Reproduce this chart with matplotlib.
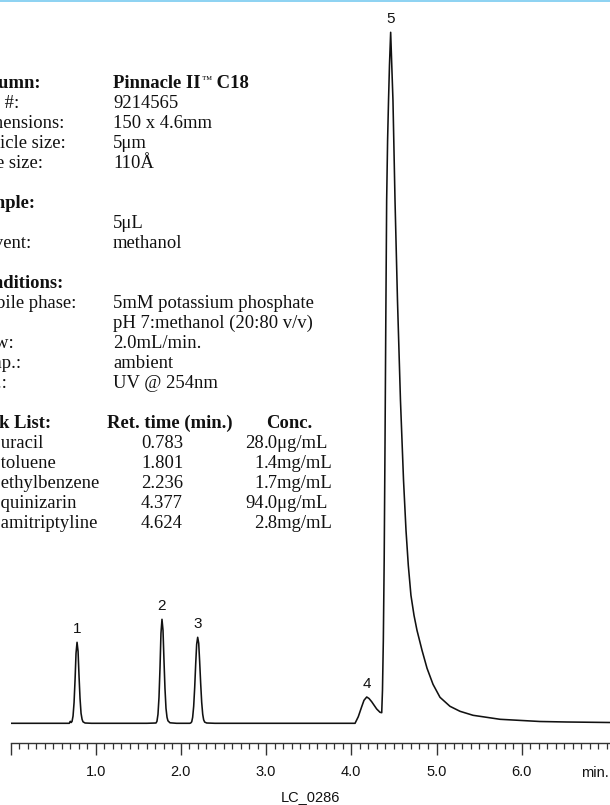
import numpy as np
import matplotlib
matplotlib.use("Agg")
import matplotlib.pyplot as plt
from matplotlib.ticker import MultipleLocator
from matplotlib.patches import Rectangle

# ---------------- data ----------------
time_min = [0.000, 0.600, 0.690, 0.702, 0.712,
            0.722, 0.734, 0.746, 0.758, 0.769, 0.781, 0.793, 0.804, 0.816, 0.828, 0.840, 0.851, 0.875, 0.950,
            1.600, 1.708, 1.719, 1.731, 1.743, 1.755, 1.766, 1.778, 1.790, 1.801, 1.813, 1.825, 1.837, 1.848, 1.872, 1.950,
            2.103, 2.115, 2.127, 2.138, 2.150, 2.162, 2.174, 2.185, 2.197, 2.209, 2.220, 2.232, 2.244, 2.256, 2.267, 2.279, 2.303, 2.400,
            3.900, 4.044, 4.082, 4.122, 4.149, 4.181, 4.208, 4.239, 4.298, 4.337, 4.357,
            4.366, 4.376, 4.386, 4.396, 4.405, 4.415, 4.426, 4.437, 4.448, 4.462,
            4.475, 4.489, 4.513, 4.542, 4.577, 4.613, 4.642, 4.669, 4.700, 4.736, 4.771,
            4.830, 4.889, 4.959, 5.041, 5.158, 5.276, 5.429, 5.746, 6.215, 6.532, 7.036]
signal = [0.0, 0.0, 0.0, 2.0, 0.8,
          1.8, 7.2, 20.7, 44.0, 70.0, 81.0, 72.0, 48.0, 25.0, 10.0, 4.0, 1.5, 0.3, 0.0,
          0.0, 0.3, 2.0, 9.0, 26.0, 56.0, 90.0, 104.0, 93.0, 64.0, 35.0, 15.0, 6.0, 2.5, 0.5, 0.0,
          0.0, 0.3, 1.5, 6.0, 17.0, 36.0, 60.0, 79.0, 86.0, 80.0, 62.0, 40.0, 21.0, 9.0, 3.5, 1.2, 0.3, 0.0,
          0.0, 0.0, 6.6, 16.6, 23.0, 26.3, 24.8, 21.6, 14.3, 11.0, 10.6,
          33.0, 83.0, 163.0, 283.0, 403.0, 523.0, 583.0, 623.0, 658.0, 691.0,
          658.0, 623.0, 523.0, 423.0, 323.0, 243.0, 193.0, 158.0, 128.0, 108.0, 93.0,
          73.0, 55.0, 39.0, 26.0, 17.0, 12.0, 8.0, 4.0, 1.8, 1.3, 0.8]

peak_labels = ["1", "2", "3", "4", "5"]
peak_apex_min = [0.781, 1.778, 2.197, 4.181, 4.462]

major_ticks = [0, 1, 2, 3, 4, 5, 6]
major_tick_labels = ["", "1.0", "2.0", "3.0", "4.0", "5.0", "6.0"]

column_rows = [("Column:", "Pinnacle II\u2122 C18", True),
               ("Part #:", "9214565", False),
               ("Dimensions:", "150 x 4.6mm", False),
               ("Particle size:", "5\u03bcm", False),
               ("Pore size:", "110\u00c5", False)]
sample_rows = [("Sample:", "", True),
               ("Inj.:", "5\u03bcL", False),
               ("Solvent:", "methanol", False)]
condition_rows = [("Conditions:", "", True),
                  ("Mobile phase:", "5mM potassium phosphate", False),
                  ("", "pH 7:methanol (20:80 v/v)", False),
                  ("Flow:", "2.0mL/min.", False),
                  ("Temp.:", "ambient", False),
                  ("Det.:", "UV @ 254nm", False)]
peak_names = ["1. uracil", "2. toluene", "3. ethylbenzene", "4. quinizarin", "5. amitriptyline"]
peak_ret_times = ["0.783", "1.801", "2.236", "4.377", "4.624"]
peak_conc = ["28.0\u03bcg/mL", "1.4mg/mL", "1.7mg/mL", "94.0\u03bcg/mL", "2.8mg/mL"]

# ---------------- figure ----------------
W, H = 610, 805
fig = plt.figure(figsize=(W / 100, H / 100), dpi=100)
fig.patch.set_facecolor("white")
renderer = fig.canvas.get_renderer()

SANS = ["Liberation Sans Narrow", "Liberation Sans", "DejaVu Sans"]
SERIF = ["Liberation Serif", "DejaVu Serif"]
INK = "#111111"
TXT = 13.4

# top blue rule
fig.add_artist(Rectangle((0, 1 - 2.5 / H), 1, 2.5 / H, transform=fig.transFigure,
                         facecolor="#8fd3f2", edgecolor="none"))

x0 = 10.5
px_per_min = 85.2
ax = fig.add_axes([x0 / W, 1 - 743 / H, 1 - x0 / W, 743 / H])
ax.set_facecolor("none")
ax.plot(time_min, signal, color=INK, lw=1.15, solid_joinstyle="round", solid_capstyle="round")
ax.set_xlim(0, (W - x0) / px_per_min)
ax.set_ylim(-19.7, 723.3)

for s in ("left", "right", "top"):
    ax.spines[s].set_visible(False)
ax.spines["bottom"].set_color("#333333")
ax.spines["bottom"].set_linewidth(1.0)
ax.set_yticks([])
ax.set_xticks(major_ticks)
ax.set_xticklabels(major_tick_labels)
ax.xaxis.set_minor_locator(MultipleLocator(0.1))
ax.tick_params(axis="x", which="major", length=8.6, width=1.0, color="#333333",
               direction="out", pad=7.5, labelsize=10.5, labelcolor=INK)
ax.tick_params(axis="x", which="minor", length=4.3, width=0.9, color="#333333", direction="out")
for lab in ax.get_xticklabels():
    lab.set_family(SANS)

# peak labels
for lab, t in zip(peak_labels, peak_apex_min):
    h = np.interp(t, time_min, signal)
    ax.annotate(lab, (t, h), xytext=(0, 9.5), textcoords="offset points",
                ha="center", va="center", fontsize=11, family=SANS, color=INK)

# axis annotations
fig.text(595 / W, 1 - 773 / H, "min.", ha="center", va="center", fontsize=10.5, family=SANS, color=INK)
fig.text(310 / W, 1 - 797 / H, "LC_0286", ha="center", va="center", fontsize=10.5, family=SANS, color=INK)

# ---------------- text block ----------------
def T(x, line, s, bold=False, ha="left", size=TXT, dy=0):
    y = 88 + 20 * line + dy
    return fig.text(x / W, 1 - y / H, s, ha=ha, va="baseline", fontsize=size, family=SERIF,
                    fontweight="bold" if bold else "normal", color=INK)

def T_tm(x, line, s, bold=False):
    # render the trademark sign as a small superscript
    if "\u2122" not in s:
        return T(x, line, s, bold=bold)
    a, b = s.split("\u2122", 1)
    t1 = T(x, line, a, bold=bold)
    x1 = t1.get_window_extent(renderer).x1
    t2 = T(x1 + 0.5, line, "\u2122", bold=False, size=7.5, dy=-5)
    x2 = t2.get_window_extent(renderer).x1
    return T(x2 + 1, line, b, bold=bold)

LX, VX = -30, 113
line = 0
for block in (column_rows, sample_rows, condition_rows):
    for lbl, val, bold in block:
        if lbl:
            T(LX, line, lbl, bold=bold)
        if val:
            T_tm(VX, line, val, bold=bold)
        line += 1
    line += 1

T(LX, line, "Peak List:", bold=True)
T(107, line, "Ret. time (min.)", bold=True)
T(289, line, "Conc.", bold=True, ha="center")
line += 1
dec_x = 263.5
for name, rt, conc in zip(peak_names, peak_ret_times, peak_conc):
    T(-18, line, name)
    T(162, line, rt, ha="center")
    ip, rest = conc.split(".", 1)
    T(dec_x, line, ip, ha="right")
    T(dec_x, line, "." + rest)
    line += 1

fig.savefig("out.png", dpi=100, facecolor="white")
